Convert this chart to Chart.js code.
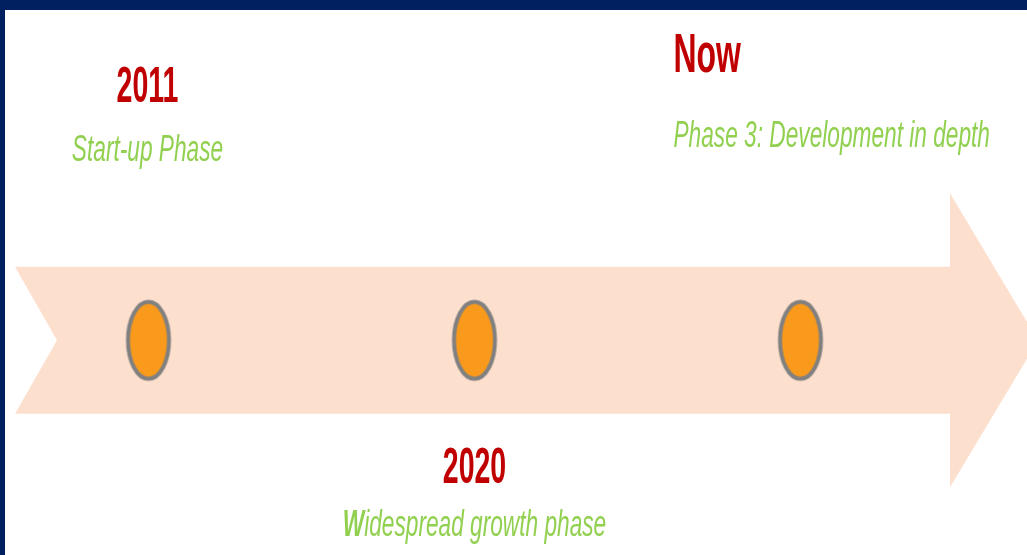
<!DOCTYPE html>
<html>
<head>
<meta charset="utf-8">
<script src="https://cdn.jsdelivr.net/npm/chart.js@4/dist/chart.umd.min.js"></script>
<style>
  html, body { margin: 0; padding: 0; background: #ffffff; overflow: hidden; }
  #wrap { position: absolute; left: 0; top: 0; width: 1027px; height: 555px; }
</style>
</head>
<body>
<div id="wrap"><canvas id="c" width="1027" height="555"></canvas></div>
<script>
// ---- data ----
const milestonePositions = [1, 2, 3];
const milestoneYears = ['2011', '2020', 'Now'];
const milestonePhases = ['Start-up Phase', 'Widespread growth phase', 'Phase 3: Development in depth'];
const milestoneLevel = [0, 0, 0];

// ---- layout / style (not data) ----
const labelLayout = [
  { align: 'center', dx: -1,   yearY: 102, phaseY: 161, yearSize: 50 },
  { align: 'center', dx: 0,    yearY: 483, phaseY: 536, yearSize: 50 },
  { align: 'left',   dx: -127, yearY: 72,  phaseY: 147, yearSize: 56 }
];
const FONT = '"Liberation Sans", Arial, sans-serif';
const NAVY = '#002060';
const RED = '#C00000';
const GREEN = '#92D050';
const BAND = '#FDDFCE';

// ellipse marker as point style
function makeMarker() {
  const cv = document.createElement('canvas');
  cv.width = 48; cv.height = 84;
  const g = cv.getContext('2d');
  g.beginPath();
  g.ellipse(24, 42, 20.5, 38.5, 0, 0, Math.PI * 2);
  g.fillStyle = '#F99A1C';
  g.fill();
  g.lineWidth = 4;
  g.strokeStyle = '#808080';
  g.stroke();
  return cv;
}
const marker = makeMarker();

const framePlugin = {
  id: 'frame',
  beforeDraw(chart) {
    const ctx = chart.ctx;
    ctx.save();
    ctx.fillStyle = '#ffffff';
    ctx.fillRect(0, 0, chart.width, chart.height);
    ctx.fillStyle = NAVY;
    ctx.fillRect(0, 0, chart.width, 10);
    ctx.fillRect(0, 0, 5, chart.height);
    // arrow band centred on the timeline level
    const yc = chart.scales.y.getPixelForValue(0);
    const half = 73.5, head = 147;
    ctx.fillStyle = BAND;
    ctx.beginPath();
    ctx.moveTo(15, yc - half);
    ctx.lineTo(950, yc - half);
    ctx.lineTo(950, yc - head);
    ctx.lineTo(1038, yc);
    ctx.lineTo(950, yc + head);
    ctx.lineTo(950, yc + half);
    ctx.lineTo(15, yc + half);
    ctx.lineTo(57, yc);
    ctx.closePath();
    ctx.fill();
    ctx.restore();
  }
};

function drawScaled(ctx, text, x, y, font, color, align, sx) {
  ctx.save();
  ctx.font = font;
  ctx.fillStyle = color;
  ctx.textBaseline = 'alphabetic';
  const w = ctx.measureText(text).width * sx;
  let left = x;
  if (align === 'center') left = x - w / 2;
  ctx.translate(left, y);
  ctx.scale(sx, 1);
  ctx.textAlign = 'left';
  ctx.fillText(text, 0, 0);
  ctx.restore();
}

const labelPlugin = {
  id: 'labels',
  afterDatasetsDraw(chart) {
    const ctx = chart.ctx;
    const pts = chart.getDatasetMeta(0).data;
    pts.forEach((p, i) => {
      const L = labelLayout[i];
      const x = p.x + L.dx;
      drawScaled(ctx, milestoneYears[i], x, L.yearY, 'bold ' + L.yearSize + 'px ' + FONT, RED, L.align, 0.57);
      const phase = milestonePhases[i];
      if (phase.startsWith('Widespread')) {
        const sx = 0.63;
        ctx.save();
        ctx.font = 'italic bold 36px ' + FONT;
        const w1 = ctx.measureText(phase[0]).width;
        ctx.font = 'italic 36px ' + FONT;
        const w2 = ctx.measureText(phase.slice(1)).width;
        ctx.restore();
        const total = (w1 + w2) * sx;
        const left = L.align === 'center' ? x - total / 2 : x;
        drawScaled(ctx, phase[0], left, L.phaseY, 'italic bold 36px ' + FONT, GREEN, 'left', sx);
        drawScaled(ctx, phase.slice(1), left + w1 * sx, L.phaseY, 'italic 36px ' + FONT, GREEN, 'left', sx);
      } else {
        drawScaled(ctx, phase, x, L.phaseY, 'italic 36px ' + FONT, GREEN, L.align, 0.63);
      }
    });
  }
};

new Chart(document.getElementById('c'), {
  type: 'scatter',
  data: {
    datasets: [{
      data: milestonePositions.map((v, i) => ({ x: v, y: milestoneLevel[i] })),
      pointStyle: marker,
      pointRadius: 24,
      pointHoverRadius: 24,
      clip: false
    }]
  },
  options: {
    responsive: false,
    animation: false,
    events: [],
    layout: { padding: 0, autoPadding: false },
    plugins: { legend: { display: false }, title: { display: false }, tooltip: { enabled: false } },
    scales: {
      x: { type: 'linear', display: false, min: 0.5445, max: 3.6948 },
      y: { type: 'linear', display: false, min: -1, max: 1.585 }
    }
  },
  plugins: [framePlugin, labelPlugin]
});
</script>
</body>
</html>
